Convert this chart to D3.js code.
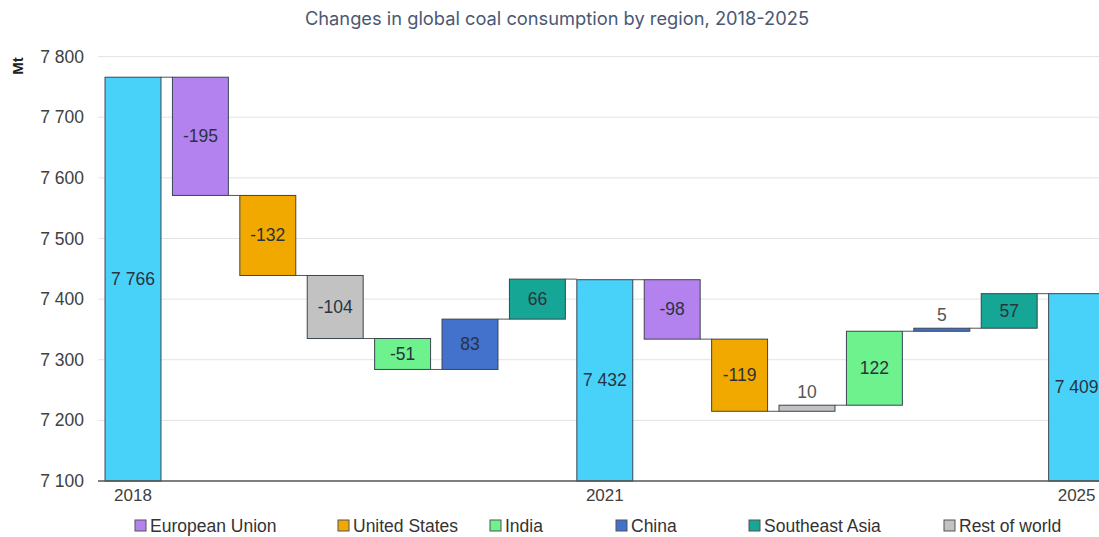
<!DOCTYPE html>
<html>
<head>
<meta charset="utf-8">
<script src="https://cdn.jsdelivr.net/npm/d3@7"></script>
<style>
  html, body { margin: 0; padding: 0; background: #fff; }
  svg { display: block; }
</style>
</head>
<body>
<svg id="chart" width="1099" height="537"></svg>
<script>
// ---- data ----
const titleText = "Changes in global coal consumption by region, 2018-2025";
const yTicks = [7100, 7200, 7300, 7400, 7500, 7600, 7700, 7800];
const steps = ["2018", "EU1", "US1", "RoW1", "India1", "China1", "SEA1", "2021", "EU2", "US2", "RoW2", "India2", "China2", "SEA2", "2025"];
const stepKinds = ["total", "European Union", "United States", "Rest of world", "India", "China", "Southeast Asia", "total", "European Union", "United States", "Rest of world", "India", "China", "Southeast Asia", "total"];
const stepValues = [7766, -195, -132, -104, -51, 83, 66, 7432, -98, -119, 10, 122, 5, 57, 7409];
const xLabels = ["2018", "", "", "", "", "", "", "2021", "", "", "", "", "", "", "2025"];
const legendNames = ["European Union", "United States", "India", "China", "Southeast Asia", "Rest of world"];
const legendColors = ["#b482ee", "#f1a900", "#6ef28e", "#4272cc", "#16a695", "#c2c2c2"];
const totalColor = "#48d2fa";

const colorOf = k => k === "total" ? totalColor : legendColors[legendNames.indexOf(k)];
const fmt = v => {
  const s = d3.format(",")(Math.abs(v)).replace(/,/g, " ");
  return (v < 0 ? "-" : "") + s;
};

// build waterfall rows
let running = 0;
const rows = steps.map((id, i) => {
  const kind = stepKinds[i], v = stepValues[i];
  let y0, y1;
  if (kind === "total") { y0 = 7100; y1 = v; running = v; }
  else { y0 = running; y1 = running + v; running = y1; }
  return { id, kind, v, y0, y1, lo: Math.min(y0, y1), hi: Math.max(y0, y1), label: xLabels[i] };
});

const svg = d3.select("#chart");
const W = 1099, H = 537;
const plotLeft = 99.3, plotRight = 1110.3, plotTop = 56.6, plotBottom = 481;
const FONT = "'Liberation Sans', Arial, sans-serif";

const y = d3.scaleLinear().domain([7100, 7800]).range([plotBottom, plotTop]);
const x = d3.scaleBand().domain(steps).range([plotLeft, plotRight]).paddingInner(0.17).paddingOuter(0.085);

// title
svg.append("text").attr("x", 557).attr("y", 25).attr("text-anchor", "middle")
  .attr("font-family", "Inter, 'Open Sans', sans-serif").attr("font-size", 18.3)
  .attr("fill", "#4a5873").text(titleText);

// gridlines
svg.append("g").selectAll("line").data(yTicks.filter(t => t > 7100)).join("line")
  .attr("x1", 98).attr("x2", W).attr("y1", d => y(d)).attr("y2", d => y(d))
  .attr("stroke", "#e3e3e3").attr("stroke-width", 1);

// y axis labels
const yAxis = d3.axisLeft(y).tickValues(yTicks).tickSize(0).tickPadding(0)
  .tickFormat(d => fmt(d));
const gy = svg.append("g").attr("transform", "translate(84,0)").call(yAxis);
gy.select(".domain").remove();
gy.selectAll("text").attr("font-family", FONT)
  .attr("font-size", 17.5).attr("fill", "#404040");

// Mt label
svg.append("text").attr("transform", "translate(23,66) rotate(-90)")
  .attr("text-anchor", "middle").attr("font-family", FONT)
  .attr("font-weight", "bold").attr("font-size", 15).attr("fill", "#222").text("Mt");

// connectors
const conn = svg.append("g");
rows.forEach((r, i) => {
  if (i === rows.length - 1) return;
  conn.append("line")
    .attr("x1", x(r.id) + x.bandwidth()).attr("x2", x(rows[i + 1].id))
    .attr("y1", y(r.y1)).attr("y2", y(r.y1))
    .attr("stroke", "#555").attr("stroke-width", 1);
});

// bars
svg.append("g").selectAll("rect").data(rows).join("rect")
  .attr("x", d => x(d.id)).attr("width", x.bandwidth())
  .attr("y", d => y(d.hi)).attr("height", d => Math.max(1, y(d.lo) - y(d.hi)))
  .attr("fill", d => colorOf(d.kind)).attr("stroke", "#3a4550").attr("stroke-width", 1);

// axis baseline
svg.append("line").attr("x1", 98).attr("x2", W).attr("y1", plotBottom).attr("y2", plotBottom)
  .attr("stroke", "#555").attr("stroke-width", 1.3);

// data labels
svg.append("g").selectAll("text").data(rows).join("text")
  .attr("x", d => x(d.id) + x.bandwidth() / 2)
  .attr("y", d => {
    const h = y(d.lo) - y(d.hi);
    if (d.kind !== "total" && h < 20) return y(d.hi) - 7;
    return (y(d.lo) + y(d.hi)) / 2 + 6;
  })
  .attr("text-anchor", "middle")
  .attr("font-family", FONT).attr("font-size", 17.5)
  .attr("fill", d => {
    const h = y(d.lo) - y(d.hi);
    return (d.kind !== "total" && h < 20) ? "#555" : "#2a3340";
  })
  .text(d => fmt(d.v));

// x labels
const xAxis = d3.axisBottom(x).tickSize(0).tickPadding(0).tickFormat((d, i) => xLabels[i]);
const gx = svg.append("g").attr("transform", `translate(0,${plotBottom + 20})`).call(xAxis);
gx.select(".domain").remove();
gx.selectAll("text").attr("font-family", FONT)
  .attr("font-size", 17).attr("fill", "#404040").attr("dy", 0);

// legend
const legendX = [135, 338, 490, 616, 749, 944];
const lg = svg.append("g");
legendNames.forEach((n, i) => {
  const g = lg.append("g").attr("transform", `translate(${legendX[i]},520)`);
  g.append("rect").attr("x", 0).attr("y", 0).attr("width", 11).attr("height", 11)
    .attr("fill", legendColors[i]).attr("stroke", "#555").attr("stroke-width", 1);
  g.append("text").attr("x", 15).attr("y", 12)
    .attr("font-family", FONT).attr("font-size", 17.5)
    .attr("fill", "#333").text(n);
});
</script>
</body>
</html>
